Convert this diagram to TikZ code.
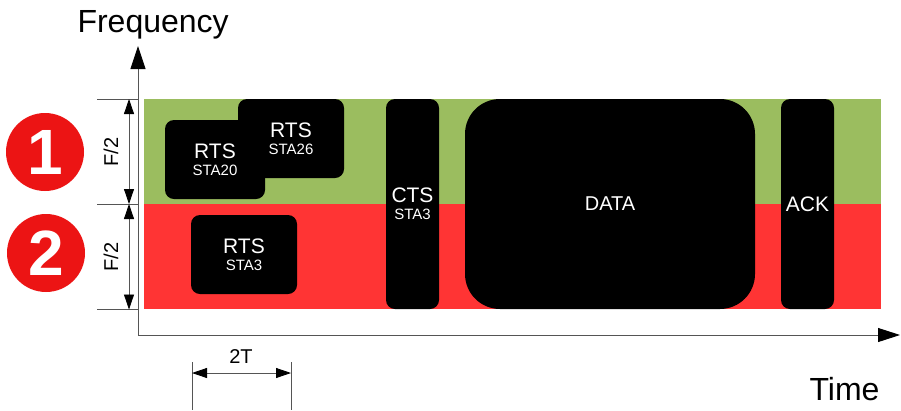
\documentclass[tikz,border=0pt]{standalone}
\usepackage{fontspec}
\setmainfont{Liberation Sans}
\usetikzlibrary{arrows.meta}
\definecolor{bandgreen}{RGB}{155,189,95}
\definecolor{bandred}{RGB}{255,52,52}
\definecolor{circred}{RGB}{236,20,20}
\definecolor{axisgray}{RGB}{85,85,85}
\begin{document}
\begin{tikzpicture}[x=1pt,y=-1pt,
  band/.style={inner sep=0pt,anchor=north west,minimum width=737,minimum height=105},
  frame/.style={fill=black,inner sep=0pt,text=white,align=center,rounded corners=9pt},
  axisline/.style={draw=axisgray,line width=0.9pt},
  dimline/.style={draw=axisgray,line width=0.8pt,
    {Triangle[length=15pt,width=10pt,color=black]}-{Triangle[length=15pt,width=10pt,color=black]}},
  extline/.style={draw=axisgray,line width=0.8pt},
  numcirc/.style={circle,fill=circred,minimum size=78,inner sep=0pt,text=white,
    font=\fontsize{64}{64}\selectfont\bfseries},
  dimlabel/.style={font=\fontsize{20}{20}\selectfont},
  axislabel/.style={font=\fontsize{32}{32}\selectfont}]
\useasboundingbox (0,0) rectangle (901,410);

% frequency bands
\node[band,fill=bandgreen] (ch1) at (144,99) {};
\node[band,fill=bandred] (ch2) at (144,204) {};

% frames
\node[frame,minimum width=106,minimum height=79] (rts26) at (291,138.5)
  {{\fontsize{21}{21}\selectfont RTS}\\[5pt]{\fontsize{15}{15}\selectfont STA26}};
\node[frame,minimum width=100,minimum height=79] (rts20) at (215,159.5)
  {{\fontsize{21}{21}\selectfont RTS}\\[5pt]{\fontsize{15}{15}\selectfont STA20}};
\node[frame,minimum width=106,minimum height=79] (rts3) at (244,254.5)
  {{\fontsize{21}{21}\selectfont RTS}\\[5pt]{\fontsize{15}{15}\selectfont STA3}};
\node[frame,minimum width=53,minimum height=210] (cts) at (412.5,204)
  {{\fontsize{21}{21}\selectfont CTS}\\[5pt]{\fontsize{15}{15}\selectfont STA3}};
\node[frame,rounded corners=35pt,minimum width=290,minimum height=210,
  font=\fontsize{20}{20}\selectfont] (data) at (610,204) {DATA};
\node[frame,minimum width=53,minimum height=210,
  font=\fontsize{21}{21}\selectfont] (ack) at (807.5,204) {ACK};

% axes
\coordinate (origin) at (138,335);
\coordinate (ytip) at (138,46);
\coordinate (xtip) at (900,335);
\draw[axisline,{Triangle[length=23pt,width=15pt,color=black]}-{Triangle[length=22pt,width=14pt,color=black]}]
  (ytip) -- (origin) -- (xtip);
\node[axislabel,anchor=base west] (freq) at (74,32) {Frequency};
\node[axislabel,anchor=base east] (time) at (883,400) {Time};

% F/2 dimensions
\coordinate (e1) at (97,99);
\coordinate (e2) at (97,204);
\coordinate (e3) at (97,309.5);
\draw[extline] (e1) -- (e1 -| origin);
\draw[extline] (e2) -- (e2 -| origin);
\draw[extline] (e3) -- (e3 -| origin);
\coordinate (d1) at (129,99);
\coordinate (d2) at (129,204);
\coordinate (d3) at (129,309.5);
\draw[dimline] (d1) -- (d2);
\draw[dimline] (d2) -- (d3);
\node[dimlabel,rotate=90] (f1) at (111,152) {F/2};
\node[dimlabel,rotate=90] (f2) at (111,257) {F/2};

% channel numbers
\node[numcirc] (c1) at (45,152) {1};
\node[numcirc] (c2) at (46,253) {2};

% 2T dimension
\coordinate (t1) at (192,362);
\coordinate (t2) at (291,362);
\draw[extline] (t1) -- (192,410);
\draw[extline] (t2) -- (291,410);
\coordinate (a1) at (192,373);
\coordinate (a2) at (291,373);
\draw[dimline] (a1) -- (a2);
\node[dimlabel] (twot) at (241,357) {2T};
\end{tikzpicture}
\end{document}
